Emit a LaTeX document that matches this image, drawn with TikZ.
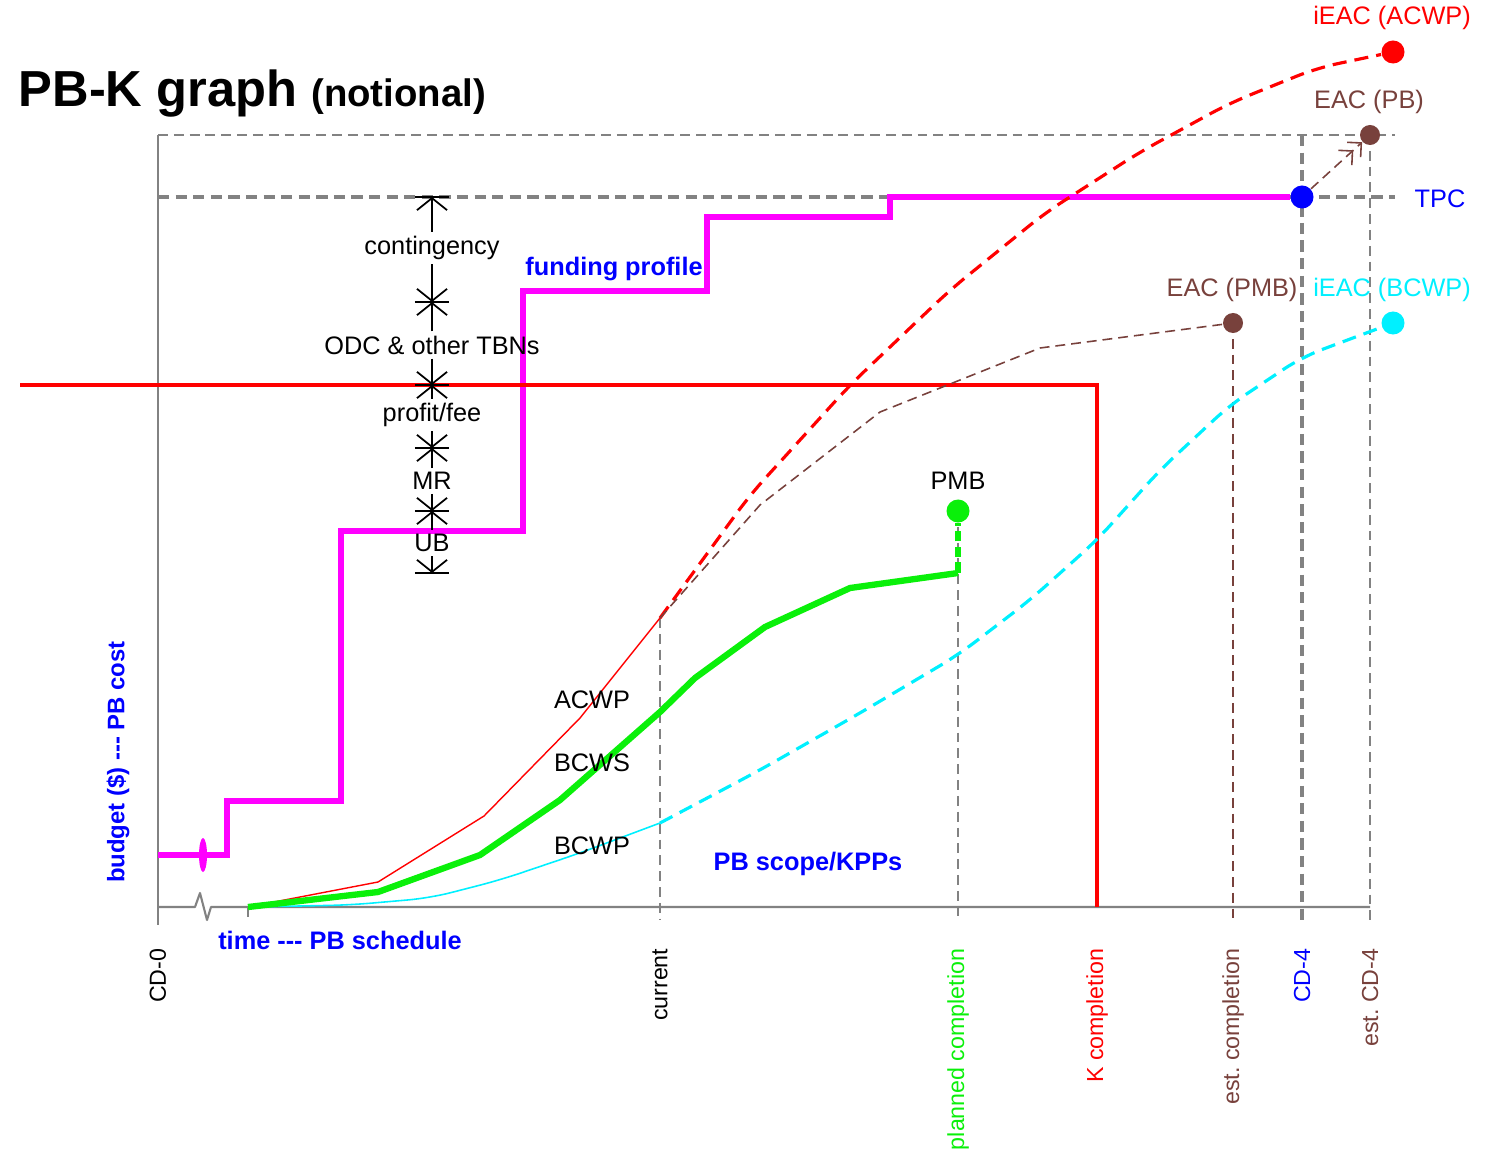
\documentclass[tikz,border=0pt]{standalone}
\usepackage{fontspec}
\setmainfont{Liberation Sans}
\usepackage{tikz}
\usetikzlibrary{arrows.meta,positioning,calc}
\definecolor{mybrown}{RGB}{120,65,60}
\definecolor{mygray}{RGB}{130,130,130}
\definecolor{mygreen}{RGB}{10,240,10}
\definecolor{mymagenta}{RGB}{255,0,255}
\definecolor{mycyan}{RGB}{0,240,255}
\definecolor{myred}{RGB}{255,0,0}
\definecolor{myblue}{RGB}{0,0,255}
\frenchspacing
\tikzset{
    lbl/.style       = {font=\fontsize{7.2}{8.6}\selectfont, inner sep=1pt},
    blbl/.style      = {font=\fontsize{7.2}{8.6}\selectfont\bfseries, text=myblue, inner sep=1pt},
    ticklbl/.style   = {font=\fontsize{6.6}{8}\selectfont, rotate=90, anchor=east, inner sep=0pt},
    dot/.style       = {circle, fill=#1, minimum size=2mm, inner sep=0pt},
    axisline/.style  = {draw=mygray, line width=0.6pt},
    guide/.style     = {draw=mygray, line width=0.45pt, dash pattern=on 2.8pt off 1.7pt},
    heavyguide/.style= {draw=mygray, line width=1.4pt, dash pattern=on 3.2pt off 1.8pt},
    funding/.style   = {draw=mymagenta, line width=1.6pt},
    contract/.style  = {draw=myred, line width=1.4pt},
    acwp/.style      = {draw=myred, line width=0.4pt},
    acwpfc/.style    = {draw=myred, line width=0.9pt, dash pattern=on 4pt off 2.3pt, rounded corners=6pt},
    bcws/.style      = {draw=mygreen, line width=1.8pt, line join=round},
    bcwp/.style      = {draw=mycyan, line width=0.45pt, rounded corners=6pt},
    bcwpfc/.style    = {draw=mycyan, line width=0.9pt, dash pattern=on 4pt off 2.3pt, rounded corners=6pt},
    eacline/.style   = {draw=mybrown, line width=0.45pt, dash pattern=on 2.8pt off 1.7pt},
    scaleseg/.style  = {draw=black, line width=0.5pt, -{Straight Barb[length=1.2mm,width=3mm]}},
    scalebar/.style  = {draw=black, line width=0.5pt},
}
\begin{document}
\begin{tikzpicture}[x=0.01cm, y=-0.01cm]
    \useasboundingbox (0,0) rectangle (1501,1149);
    % Coordinates
    \coordinate (O) at (158,907);
    \coordinate (t0) at (248,907);
    \coordinate (cur) at (660,618);
    \coordinate (pmbEnd) at (958,573);
    \coordinate (kEnd) at (1097,907);
    % Frame and guides
    \draw[guide] (158,135) -- (1395,135);
    \draw[heavyguide] (158,197) -- (1395,197);
    \draw[heavyguide] (1302,135) -- (1302,920);
    \draw[guide] (1370,135) -- (1370,920);
    \draw[guide] (cur) -- (660,920);
    \draw[guide] (958,511) -- (958,920);
    \draw[eacline] (1233,323) -- (1233,920);
    \draw[guide] (t0) -- (248,920);
    \draw[axisline] (158,135) -- (158,925);
    \draw[axisline, line join=round] (O) -- (195,907) -- (200,893) -- (207,920) -- (211,907) -- (1370,907);
    % Dots
    \node[dot=myred, minimum size=2.3mm] (iEACa) at (1393,52) {};
    \node[dot=mybrown] (eacPB) at (1370,135) {};
    \node[dot=myblue, minimum size=2.3mm] (tpc) at (1302,197) {};
    \node[dot=mybrown] (eacPMB) at (1233,323) {};
    \node[dot=mycyan, minimum size=2.3mm] (iEACb) at (1393,323) {};
    \node[dot=mygreen, minimum size=2.3mm] (pmb) at (958,511) {};
    % Funding profile and contract
    \draw[funding] (158,855) -- (227,855) -- (227,801) -- (341,801) -- (341,531) -- (523,531)
        -- (523,291) -- (707,291) -- (707,217) -- (890,217) -- (890,197) -- (tpc);
    \fill[mymagenta] (203,855) ellipse [x radius=4, y radius=17];
    \draw[contract] (20,385) -- (1097,385) -- (kEnd);
    % Curves
    \draw[acwp] (t0) -- (378,882) -- (484,816) -- (580,718) -- (cur);
    \draw[acwpfc] (cur) -- (750,495) -- (850,385) -- (950,290) -- (1045,213) -- (1140,152)
        -- (1230,103) -- (1317,68) -- (iEACa);
    \draw[bcwp] (t0) -- (350,905) -- (430,898) -- (500,880) -- (580,853) -- (660,823) coordinate (bcwpCur);
    \draw[bcwpfc] (bcwpCur) -- (760,770) -- (860,713) -- (958,655) -- (1030,600) -- (1097,540)
        -- (1160,470) -- (1230,405) -- (1302,357) -- (iEACb);
    \draw[eacline] (cur) -- (760,505) -- (880,412) -- (1040,348) -- (eacPMB);
    \draw[bcws] (t0) -- (378,892) -- (480,855) -- (560,800) -- (660,712) -- (695,678) -- (765,627)
        -- (850,588) -- (pmbEnd);
    \draw[mygreen, line width=1.8pt, dash pattern=on 3pt off 1.5pt] (pmbEnd) -- (pmb);
    \draw[eacline, -{Straight Barb[length=1mm,width=2mm] Straight Barb[length=1mm,width=2mm]}] (tpc) -- (eacPB);
    % Budget scale
    \node[lbl] (cont) at (432,248) {contingency};
    \node[lbl] (odc) at (432,345) {ODC \& other TBNs};
    \node[lbl] (prof) at (432,415) {profit/fee};
    \node[lbl] (mr) at (432,481) {MR};
    \node[lbl] (ub) at (432,543) {UB};
    \coordinate (m0) at (432,197);
    \coordinate (m1) at (432,302);
    \coordinate (m2) at (432,385);
    \coordinate (m3) at (432,448);
    \coordinate (m4) at (432,511);
    \coordinate (m5) at (432,573);
    \foreach \lab/\mk in {cont/m0, cont/m1, odc/m1, odc/m2, prof/m2, prof/m3, mr/m3, mr/m4, ub/m4, ub/m5}
        \draw[scaleseg] (\lab) -- (\mk);
    \foreach \mk in {m0,m1,m2,m3,m4,m5}
        \draw[scalebar] ([xshift=-1.7mm]\mk) -- ([xshift=1.7mm]\mk);
    % Labels
    \node[anchor=base west, inner sep=0pt] (title) at (18,107)
        {\fontsize{14.4}{17}\selectfont\bfseries PB-K graph \fontsize{10.9}{13}\selectfont(notional)};
    \node[lbl, text=myred] (iEACaLbl) at (1392,18) {iEAC (ACWP)};
    \node[lbl, text=mybrown] (eacPBLbl) at (1369,102) {EAC (PB)};
    \node[lbl, text=myblue] (tpcLbl) at (1440,199) {TPC};
    \node[lbl, text=mybrown] (eacPMBLbl) at (1232,290) {EAC (PMB)};
    \node[lbl, text=mycyan] (iEACbLbl) at (1392,290) {iEAC (BCWP)};
    \node[blbl] (fundLbl) at (614,269) {funding profile};
    \node[lbl] (pmbLbl) at (958,481) {PMB};
    \node[lbl] (acwpLbl) at (592,700) {ACWP};
    \node[lbl] (bcwsLbl) at (592,763) {BCWS};
    \node[lbl] (bcwpLbl) at (592,846) {BCWP};
    \node[blbl] (scopeLbl) at (808,864) {PB scope/KPPs};
    \node[blbl] (timeLbl) at (340,940) {time -{}-{}- PB schedule};
    \node[blbl, rotate=90, font=\fontsize{6.8}{8}\selectfont\bfseries] (budgetLbl) at (118,762) {budget (\$) -{}-{}- PB cost};
    % Time marks
    \node[ticklbl] (cd0) at (158,948) {CD-0};
    \node[ticklbl] (curLbl) at (660,948) {current};
    \node[ticklbl, text=mygreen] (planLbl) at (958,948) {planned completion};
    \node[ticklbl, text=myred] (kLbl) at (1097,948) {K completion};
    \node[ticklbl, text=mybrown] (estLbl) at (1233,948) {est. completion};
    \node[ticklbl, text=myblue] (cd4) at (1302,948) {CD-4};
    \node[ticklbl, text=mybrown] (estcd4) at (1370,948) {est. CD-4};
\end{tikzpicture}
\end{document}
